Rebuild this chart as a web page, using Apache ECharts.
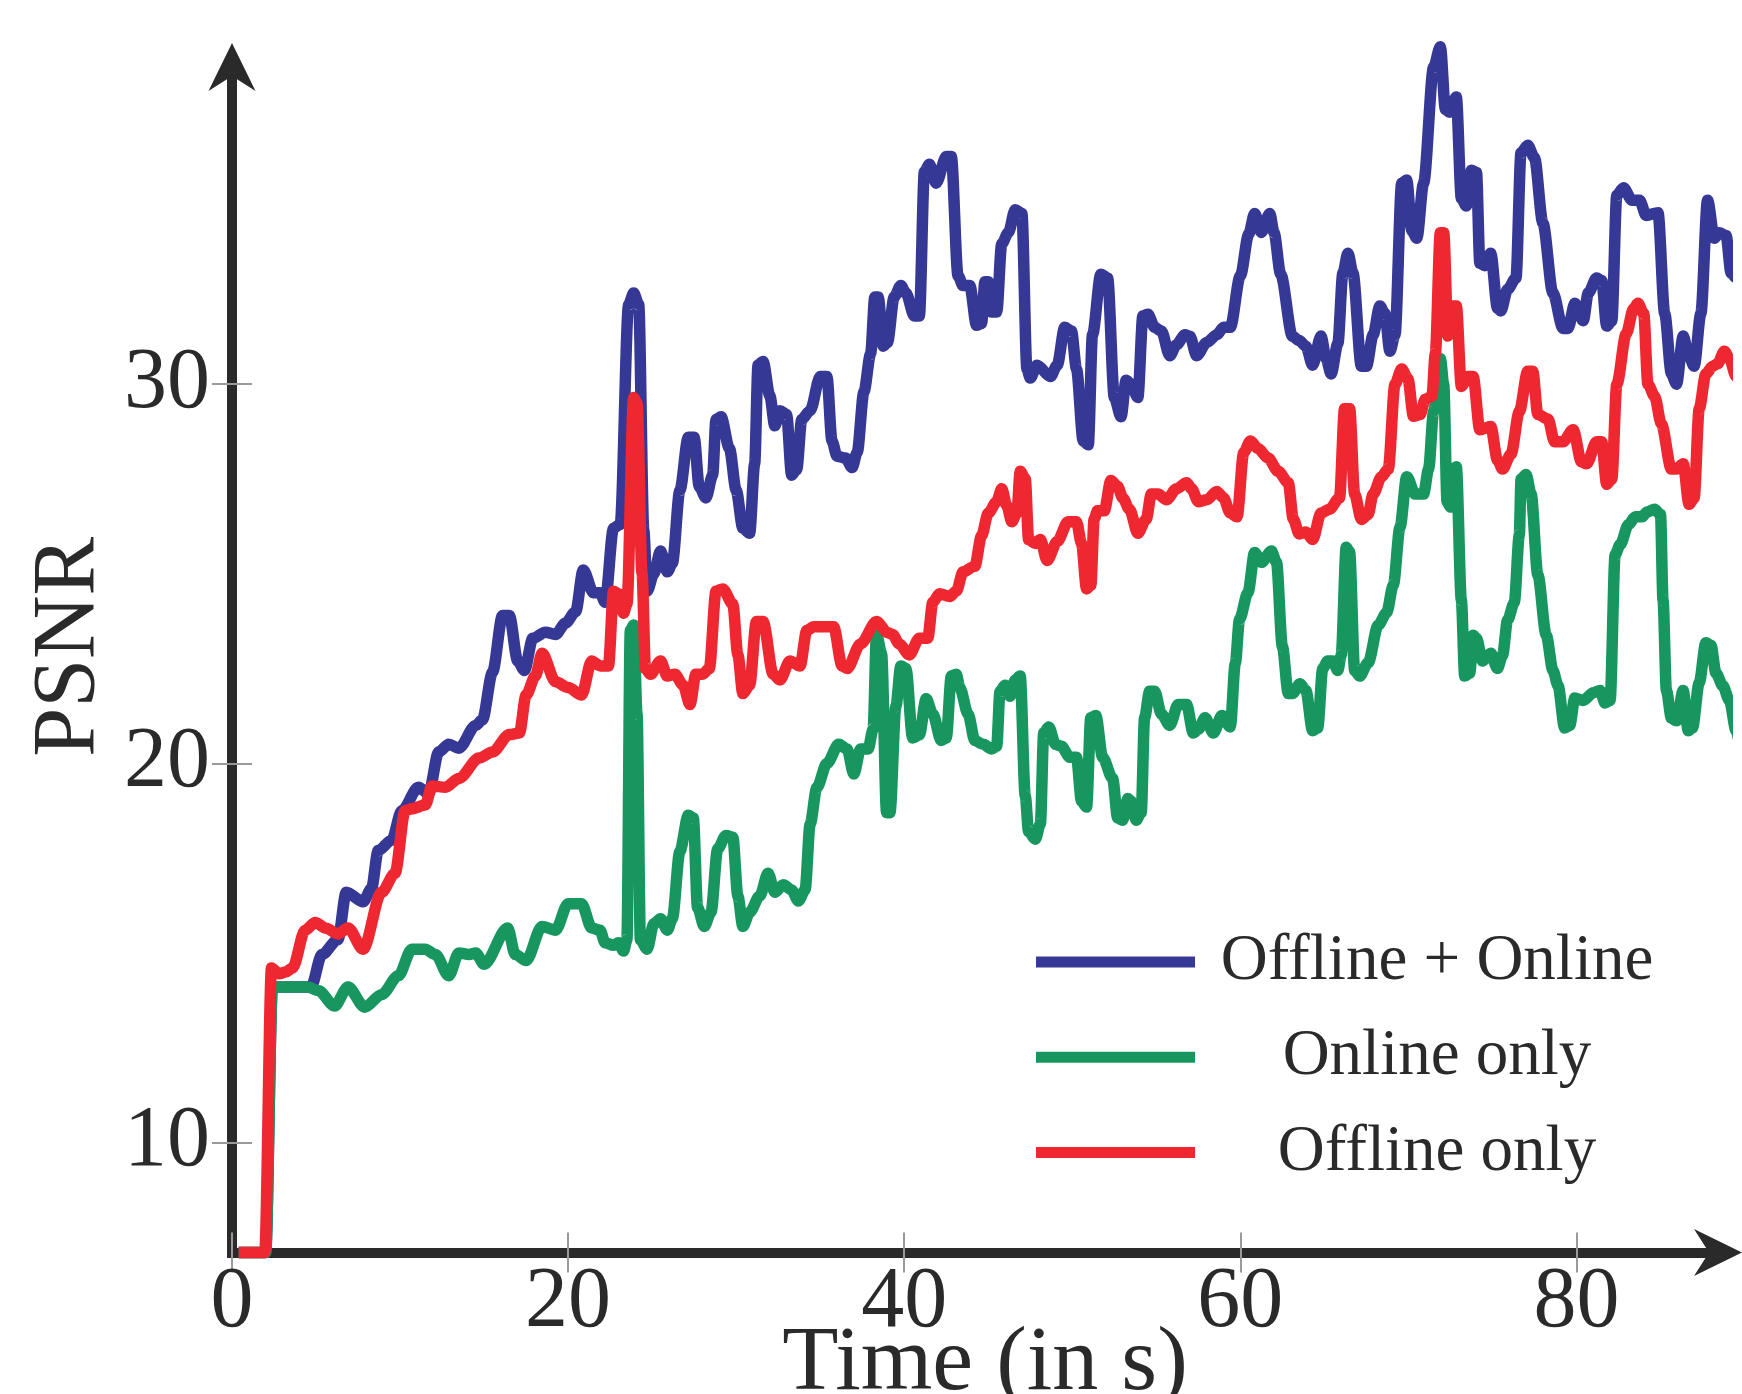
<!DOCTYPE html>
<html><head><meta charset="utf-8">
<script src="https://cdn.jsdelivr.net/npm/echarts@6/dist/echarts.min.js"></script>
<style>html,body{margin:0;padding:0;background:#fff}#c{width:1742px;height:1394px}</style>
</head><body><div id="c"></div>
<script>
const seriesNames = ['Offline + Online', 'Online only', 'Offline only'];
const xTicks = [0, 20, 40, 60, 80];
const yTicks = [10, 20, 30];

const offlineOnline = [[0.4,7.1],[2.0,7.1],[2.4,14.1],[3.5,14.1],[4.7,14.1],[5.35,14.96],[6.3,15.35],[6.8,16.6],[7.8,16.35],[8.3,16.7],[8.7,17.7],[9.5,17.97],[10.1,18.75],[11.1,19.37],[11.7,19.2],[12.3,20.3],[12.9,20.5],[13.5,20.4],[14.5,21.0],[14.9,21.15],[15.5,22.4],[16.1,23.9],[16.5,23.9],[17.0,22.7],[17.4,22.45],[17.9,23.3],[18.65,23.46],[19.25,23.4],[19.85,23.7],[20.45,24.0],[20.9,25.1],[21.5,24.5],[21.9,24.5],[22.2,24.25],[22.7,26.2],[23.1,26.3],[23.6,32.1],[23.9,32.4],[24.2,32.1],[24.5,26.15],[24.7,24.54],[25.1,25.0],[25.5,25.6],[25.9,25.05],[26.2,25.27],[26.65,27.2],[27.15,28.6],[27.5,28.6],[27.8,27.3],[28.2,27.0],[28.6,27.6],[28.8,29.07],[29.1,29.14],[29.6,28.3],[30.0,27.2],[30.4,26.2],[30.8,26.07],[31.1,27.9],[31.3,30.5],[31.6,30.6],[32.0,29.7],[32.3,28.9],[32.6,29.3],[33.0,29.2],[33.3,27.6],[33.6,27.75],[33.9,29.07],[34.4,29.3],[35.0,30.2],[35.4,30.2],[35.7,28.5],[36.0,28.1],[36.5,28.05],[36.9,27.8],[37.2,28.2],[37.6,29.8],[38.0,30.8],[38.25,32.3],[38.45,32.3],[38.75,31.0],[39.0,31.1],[39.4,32.3],[39.8,32.6],[40.1,32.4],[40.6,31.8],[40.9,31.8],[41.2,35.6],[41.5,35.8],[41.9,35.3],[42.5,36.0],[42.8,36.0],[43.2,32.86],[43.5,32.6],[43.9,32.6],[44.3,31.55],[44.6,31.6],[44.8,32.7],[45.0,32.7],[45.2,31.9],[45.5,31.9],[45.8,33.7],[46.2,34.0],[46.6,34.6],[47.0,34.5],[47.3,30.4],[47.5,30.16],[47.9,30.5],[48.7,30.2],[49.1,30.5],[49.55,31.5],[49.95,31.4],[50.25,30.4],[50.65,28.5],[50.95,28.4],[51.2,31.3],[51.7,32.9],[52.1,32.8],[52.5,29.65],[52.9,29.14],[53.2,30.1],[53.5,30.0],[53.9,29.65],[54.2,31.8],[54.5,31.84],[54.9,31.5],[55.3,31.4],[55.8,30.75],[56.2,31.04],[56.7,31.3],[57.0,31.26],[57.4,30.75],[58.0,31.1],[58.6,31.3],[59.0,31.5],[59.4,31.5],[60.0,32.86],[60.5,33.96],[60.85,34.5],[61.25,34.0],[61.75,34.5],[62.0,34.0],[62.4,32.9],[63.1,31.26],[63.5,31.15],[63.9,31.0],[64.3,30.5],[64.8,31.27],[65.1,30.67],[65.4,30.27],[65.8,31.07],[66.1,32.93],[66.4,33.45],[66.7,32.93],[67.2,30.47],[67.5,30.47],[67.9,31.3],[68.3,32.06],[68.6,31.86],[68.9,30.87],[69.2,31.3],[69.6,35.3],[69.9,35.38],[70.2,34.05],[70.5,33.85],[70.9,35.3],[71.5,38.36],[71.9,38.9],[72.2,37.24],[72.45,37.17],[72.85,37.57],[73.15,34.9],[73.45,34.7],[73.75,35.64],[74.05,35.58],[74.25,33.19],[74.55,33.12],[74.9,33.45],[75.3,32.0],[75.5,31.93],[75.9,32.5],[76.4,32.8],[76.7,36.1],[77.1,36.3],[77.5,35.97],[78.0,34.25],[78.6,32.4],[79.2,31.47],[79.5,31.47],[79.9,32.13],[80.4,31.67],[80.7,32.4],[81.2,32.8],[81.5,32.73],[81.8,31.53],[82.1,31.67],[82.4,34.98],[82.8,35.18],[83.3,34.85],[83.75,34.85],[84.15,34.45],[84.85,34.52],[85.25,31.86],[85.65,30.27],[85.95,30.0],[86.35,31.27],[86.65,30.8],[87.0,30.47],[87.4,31.86],[87.8,34.85],[88.2,33.85],[88.5,33.99],[88.9,33.92],[89.2,32.93],[89.5,32.8],[89.9,33.2]];

const onlineOnly = [[0.4,7.1],[2.0,7.1],[2.4,14.1],[4.5,14.1],[5.15,14.0],[6.1,13.6],[6.9,14.1],[7.9,13.57],[8.9,13.9],[9.9,14.4],[10.7,15.1],[11.5,15.1],[12.1,14.96],[12.9,14.4],[13.5,15.0],[14.1,14.96],[14.5,15.0],[15.0,14.7],[16.4,15.66],[16.85,14.96],[17.5,14.8],[18.45,15.7],[19.25,15.6],[20.0,16.3],[20.8,16.3],[21.4,15.66],[21.9,15.6],[22.2,15.27],[22.7,15.2],[23.0,15.27],[23.3,15.05],[23.5,15.35],[23.7,23.5],[23.9,23.65],[24.1,21.3],[24.3,15.35],[24.7,15.1],[25.1,15.77],[25.5,15.9],[25.9,15.6],[26.2,15.9],[26.65,17.68],[27.15,18.63],[27.45,18.56],[27.7,16.2],[28.1,15.7],[28.5,16.07],[28.9,17.75],[29.4,18.1],[29.8,18.05],[30.1,16.5],[30.4,15.7],[30.8,16.07],[31.4,16.5],[31.9,17.1],[32.3,16.6],[32.8,16.8],[33.3,16.66],[33.7,16.37],[34.1,16.66],[34.4,18.4],[34.8,19.36],[35.4,20.0],[36.1,20.5],[36.6,20.38],[37.0,19.72],[37.4,20.38],[37.85,20.38],[38.15,20.9],[38.35,23.4],[38.65,22.9],[38.95,18.7],[39.15,18.7],[39.5,21.5],[39.8,22.57],[40.1,22.5],[40.5,20.67],[40.9,20.75],[41.3,21.7],[41.7,21.3],[42.2,20.6],[42.5,20.67],[42.8,22.3],[43.1,22.35],[43.3,22.0],[43.8,21.3],[44.2,20.6],[44.7,20.5],[45.2,20.38],[45.5,20.45],[45.7,21.9],[46.0,22.06],[46.3,21.77],[46.6,22.2],[46.9,22.3],[47.2,19.14],[47.4,18.2],[47.8,18.0],[48.1,18.4],[48.3,20.8],[48.6,20.96],[49.0,20.5],[49.35,20.45],[49.85,20.16],[50.25,20.16],[50.55,19.0],[50.85,18.85],[51.1,21.2],[51.4,21.26],[51.8,20.16],[52.4,19.6],[52.7,18.56],[53.0,18.5],[53.3,19.07],[53.5,19.0],[53.8,18.5],[54.1,18.7],[54.3,21.2],[54.6,21.9],[54.9,21.9],[55.3,21.3],[55.8,21.0],[56.3,21.55],[56.8,21.55],[57.2,20.8],[57.5,20.9],[57.9,21.2],[58.4,20.8],[58.9,21.26],[59.4,20.96],[59.7,22.64],[59.95,23.8],[60.45,24.5],[60.85,25.56],[61.25,25.3],[61.85,25.6],[62.15,25.3],[62.5,23.08],[62.85,21.84],[63.1,21.84],[63.55,22.1],[63.9,21.92],[64.3,20.86],[64.6,20.93],[64.9,22.5],[65.2,22.7],[65.5,22.7],[65.8,22.45],[66.0,22.85],[66.3,25.7],[66.5,25.57],[66.8,22.45],[67.1,22.3],[67.6,22.65],[68.2,23.64],[68.7,23.97],[69.1,24.7],[69.5,26.23],[69.9,27.56],[70.4,27.1],[70.9,27.1],[71.2,27.76],[71.5,29.28],[71.9,30.67],[72.1,30.0],[72.3,26.9],[72.5,26.76],[72.85,27.82],[73.15,24.3],[73.35,22.3],[73.65,22.38],[73.85,23.38],[74.05,23.3],[74.4,22.7],[74.9,22.9],[75.3,22.5],[75.6,22.85],[75.9,23.78],[76.3,24.24],[76.6,26.03],[76.7,27.49],[77.0,27.62],[77.3,27.1],[77.7,24.97],[78.2,23.38],[78.6,22.45],[78.9,22.05],[79.3,20.93],[79.6,21.0],[79.9,21.72],[80.4,21.66],[81.0,21.86],[81.4,21.92],[81.7,21.59],[82.0,21.66],[82.3,25.5],[82.6,25.77],[83.1,26.3],[83.5,26.5],[83.9,26.5],[84.2,26.63],[84.65,26.7],[85.0,26.56],[85.15,24.3],[85.35,21.92],[85.65,21.19],[85.95,21.12],[86.35,21.92],[86.65,20.86],[86.9,20.93],[87.3,22.12],[87.7,23.18],[88.0,23.11],[88.3,22.38],[88.7,22.05],[89.1,21.66],[89.5,20.86],[89.8,20.26]];

const offlineOnly = [[0.4,7.1],[1.95,7.1],[2.35,14.6],[2.8,14.45],[3.2,14.5],[3.6,14.6],[4.35,15.6],[4.95,15.8],[5.6,15.65],[6.3,15.5],[6.9,15.66],[7.8,15.1],[8.9,16.6],[9.7,17.1],[10.3,18.75],[10.7,18.8],[11.5,18.9],[11.9,19.4],[12.7,19.37],[13.5,19.6],[14.7,20.14],[15.5,20.3],[16.5,20.76],[17.1,20.8],[17.5,21.8],[18.05,22.3],[18.45,22.9],[19.25,22.15],[20.0,22.0],[20.8,21.8],[21.4,22.7],[21.9,22.57],[22.4,22.57],[22.7,24.54],[23.0,24.47],[23.3,23.96],[23.5,24.2],[23.9,29.65],[24.1,29.5],[24.4,25.0],[24.6,22.5],[24.9,22.35],[25.5,22.7],[25.9,22.3],[26.35,22.35],[26.85,22.06],[27.25,21.55],[27.6,22.35],[28.0,22.35],[28.4,22.5],[28.8,24.54],[29.2,24.6],[29.8,24.2],[30.1,22.86],[30.4,21.84],[30.8,22.06],[31.2,23.74],[31.6,23.74],[32.2,22.35],[32.6,22.2],[33.2,22.7],[33.8,22.57],[34.2,23.5],[34.6,23.6],[35.8,23.6],[36.3,22.57],[36.6,22.5],[37.4,23.15],[38.35,23.74],[39.0,23.45],[39.3,23.4],[39.7,23.15],[40.3,22.86],[40.9,23.3],[41.4,23.3],[41.7,24.25],[42.1,24.47],[42.7,24.4],[43.1,24.54],[43.5,25.05],[44.2,25.2],[44.6,26.0],[45.0,26.6],[45.5,26.9],[45.8,27.24],[46.1,26.8],[46.4,26.37],[46.7,26.6],[46.9,27.7],[47.2,27.5],[47.4,25.9],[47.8,25.8],[48.1,25.9],[48.5,25.35],[49.1,25.85],[49.75,26.37],[50.25,26.37],[50.55,25.8],[50.85,24.6],[51.1,24.7],[51.3,26.44],[51.5,26.66],[51.9,26.66],[52.3,27.46],[52.7,27.3],[53.0,27.0],[53.4,26.7],[53.9,26.07],[54.4,26.44],[54.7,27.1],[55.1,27.1],[55.6,26.95],[56.2,27.24],[56.8,27.4],[57.1,27.24],[57.5,26.9],[58.0,26.95],[58.6,27.17],[59.0,27.0],[59.4,26.6],[59.8,26.5],[60.2,28.2],[60.6,28.5],[61.05,28.3],[61.65,28.05],[62.25,27.7],[62.85,27.4],[63.15,26.44],[63.5,26.05],[63.9,26.1],[64.3,25.9],[64.8,26.6],[65.3,26.7],[65.9,27.0],[66.2,29.35],[66.5,29.35],[66.8,27.1],[67.2,26.43],[67.6,26.56],[67.9,27.1],[68.4,27.56],[68.8,27.76],[69.2,30.0],[69.6,30.4],[69.97,30.14],[70.3,29.15],[70.7,29.2],[71.0,29.6],[71.4,29.68],[71.6,30.8],[71.9,33.99],[72.1,33.99],[72.35,31.27],[72.65,32.06],[72.85,32.06],[73.15,29.94],[73.55,30.2],[73.85,30.2],[74.25,28.8],[74.9,28.88],[75.3,28.0],[75.6,27.76],[76.1,28.15],[76.6,29.28],[77.1,30.34],[77.4,30.34],[77.7,29.2],[78.3,29.08],[78.7,28.48],[79.2,28.48],[79.8,28.8],[80.3,27.95],[80.6,27.9],[81.2,28.48],[81.5,28.48],[81.8,27.36],[82.1,27.5],[82.4,30.0],[82.96,31.33],[83.4,31.99],[83.66,32.13],[84.0,31.86],[84.25,30.0],[84.65,29.68],[85.05,28.95],[85.65,27.76],[85.95,27.76],[86.35,27.9],[86.7,26.83],[87.0,27.0],[87.3,29.35],[87.7,30.27],[88.1,30.47],[88.4,30.54],[88.8,30.87],[89.1,30.67],[89.5,30.2],[89.9,30.27]];

const seriesData = [offlineOnline, onlineOnly, offlineOnly];
const seriesColors = ['#363895', '#17975f', '#ee2730'];

const FONT = '"Liberation Serif", "DejaVu Serif", serif';
const TEXT = '#2b2a2a';
const AXIS = '#2b2a2a';
const TICK = '#9a9a9a';
const ARROW = 'path://M23.5,0 L47,48 L23.5,33 L0,48 Z';
const GAP = 16; // distance between axis-line end and arrow tip
const X_MIN = 0, X_MAX = (1742 - GAP - 232) / 16.806;
const Y_MIN = 7.1, Y_MAX = 7.1 + (1252.5 - 43 - GAP) / 37.92;

const chart = echarts.init(document.getElementById('c'), null, {renderer: 'canvas'});

function mainAxis(extra) {
  return Object.assign({
    type: 'value',
    splitLine: {show: false},
    axisLine: {
      show: true,
      symbol: ['none', ARROW],
      symbolSize: [47, 48],
      symbolOffset: [0, GAP - 24],
      lineStyle: {color: AXIS, width: 10, cap: 'square'}
    },
    nameMoveOverlap: false
  }, extra);
}

const option = {
  backgroundColor: '#ffffff',
  animation: false,
  color: seriesColors,
  grid: {left: 232, right: GAP, top: 43 + GAP, bottom: 141.5, containLabel: false, outerBoundsMode: 'none'},
  legend: {
    orient: 'vertical',
    left: 1036,
    top: 929.5,
    padding: 0,
    itemGap: 30.3,
    itemWidth: 159,
    itemHeight: 11,
    icon: 'rect',
    data: seriesNames,
    formatter: function (name) { return '{c|' + name + '}'; },
    textStyle: {
      color: TEXT, fontFamily: FONT, fontSize: 65,
      rich: {c: {width: 474, align: 'center', color: TEXT, fontFamily: FONT, fontSize: 65}}
    }
  },
  xAxis: [
    mainAxis({
      min: X_MIN, max: X_MAX, interval: 20, position: 'bottom',
      name: 'Time (in s)', nameLocation: 'middle', nameGap: 66,
      nameTextStyle: {color: TEXT, fontFamily: FONT, fontSize: 92, padding: [0, 0, 0, 12]},
      axisTick: {show: true, length: 20, customValues: xTicks, lineStyle: {color: TICK, width: 2}},
      axisLabel: {color: TEXT, fontFamily: FONT, fontSize: 86, margin: 8, customValues: xTicks}
    }),
    {
      type: 'value', min: X_MIN, max: X_MAX, interval: 20, position: 'bottom', offset: 0,
      axisLine: {show: false}, splitLine: {show: false}, axisLabel: {show: false},
      axisTick: {show: true, inside: true, length: 20, customValues: xTicks, lineStyle: {color: TICK, width: 2}}
    }
  ],
  yAxis: [
    mainAxis({
      min: Y_MIN, max: Y_MAX, interval: 10, position: 'left',
      name: 'PSNR', nameLocation: 'middle', nameGap: 118, nameRotate: 90,
      nameTextStyle: {color: TEXT, fontFamily: FONT, fontSize: 88, padding: [0, 0, 0, 18]},
      axisTick: {show: true, length: 20, customValues: yTicks, lineStyle: {color: TICK, width: 2}},
      axisLabel: {color: TEXT, fontFamily: FONT, fontSize: 86, margin: 22, customValues: yTicks}
    }),
    {
      type: 'value', min: Y_MIN, max: Y_MAX, interval: 10, position: 'left', offset: 0,
      axisLine: {show: false}, splitLine: {show: false}, axisLabel: {show: false},
      axisTick: {show: true, inside: true, length: 20, customValues: yTicks, lineStyle: {color: TICK, width: 2}}
    }
  ],
  series: seriesNames.map(function (name, i) {
    return {
      name: name,
      type: 'line',
      xAxisIndex: 0,
      yAxisIndex: 0,
      data: seriesData[i],
      showSymbol: false,
      symbol: 'none',
      smooth: 0.3,
      smoothMonotone: 'x',
      clip: false,
      z: 3 + i,
      itemStyle: {color: seriesColors[i]},
      lineStyle: {color: seriesColors[i], width: 11.5, cap: 'butt', join: 'round'}
    };
  })
};
chart.setOption(option);
</script>
</body></html>
